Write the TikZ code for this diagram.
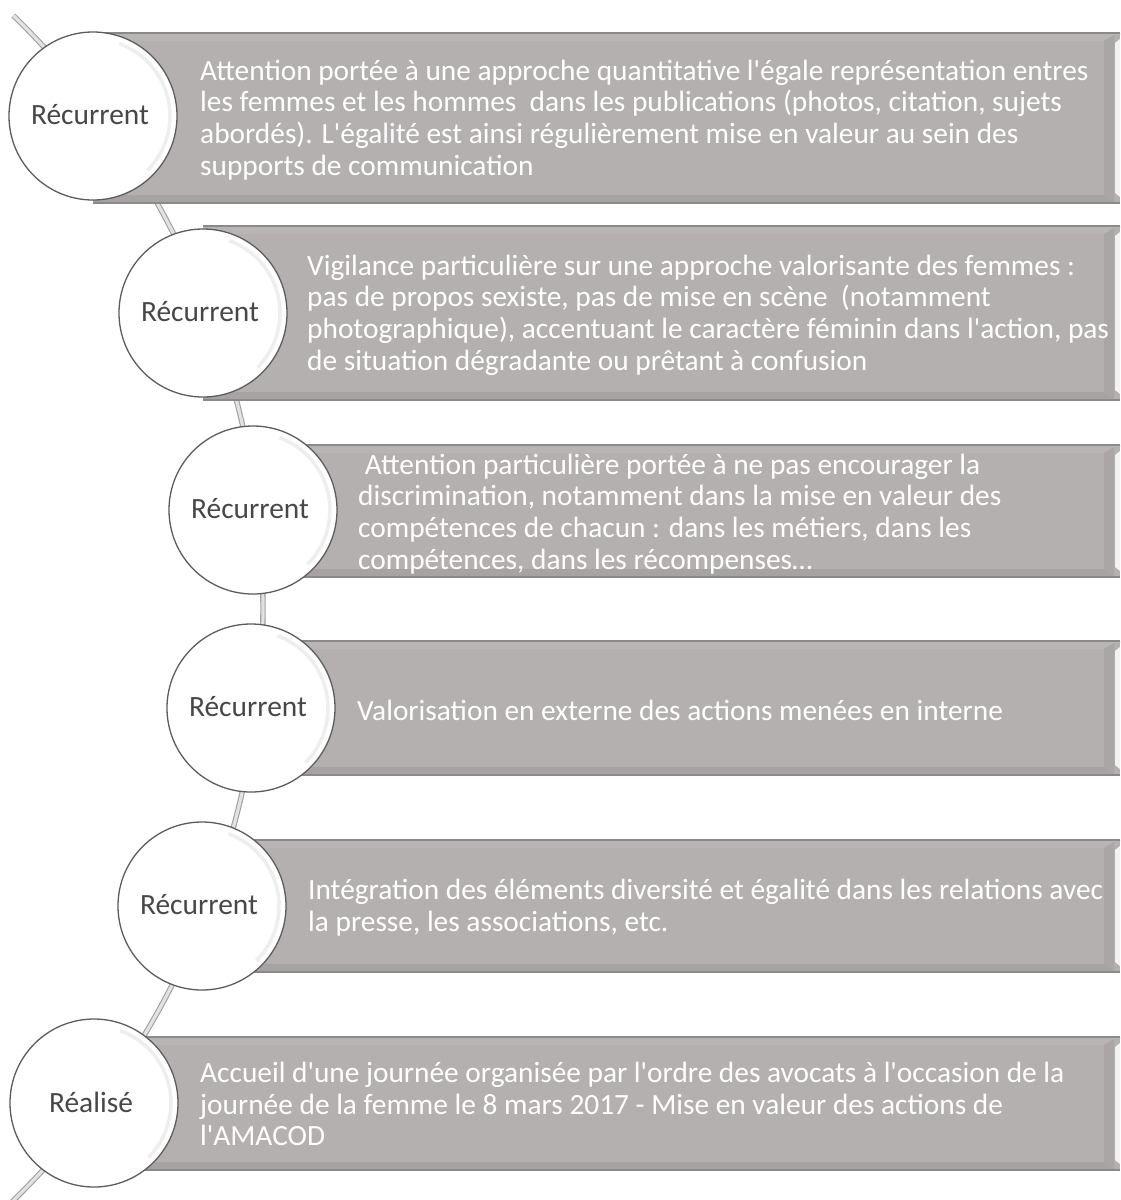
\documentclass[tikz,border=0pt]{standalone}
\usepackage{fontspec}
\setmainfont{Carlito}[Ligatures=TeXOff]
\usetikzlibrary{calc}
\definecolor{boxtop}{HTML}{B9B5B4}
\definecolor{boxface}{HTML}{B4B0AF}
\definecolor{boxdark}{HTML}{A7A3A2}
\definecolor{boxright}{HTML}{AAA6A5}
\definecolor{boxline}{HTML}{8A8A8A}
\definecolor{spinefill}{HTML}{E2E2E2}
\definecolor{spineline}{HTML}{A0A0A0}
\definecolor{circline}{HTML}{5C5C5C}
\definecolor{labelcol}{HTML}{474747}
\definecolor{glowcol}{HTML}{EEEEEE}
\newcommand\bevelbox[3]{%
  \fill[boxface] (#1,#2) rectangle (1120,#3);
  \fill[boxtop] (#1,#2) -- (1120,#2) -- (1120,{#2+2}) -- (1114,{#2+2}) -- (1104,{#2+8}) -- (#1,{#2+8}) -- cycle;
  \fill[boxdark] (#1,{#3-8}) -- (1104,{#3-8}) -- (1114,{#3-1}) -- (#1,{#3-1}) -- cycle;
  \fill[boxright] (1104,{#2+8}) -- (1114,{#2+2}) -- (1114,{#3-1}) -- (1104,{#3-8}) -- cycle;
  \fill[white!90!gray] (1115,{#2+10}) -- (1120,{#2+6}) -- (1120,{#3-6}) -- (1115,{#3-10}) -- cycle;
  \draw[boxline, line width=1.5pt] (#1,#2) -- (1120,#2);
  \draw[boxline, line width=1.5pt] (#1,#3) -- (1120,#3);
}
\tikzset{
  circ/.style={circle, draw=circline, line width=1.3pt, fill=white, minimum size=168pt, inner sep=0pt},
  lbl/.style={text=labelcol, inner sep=0pt, font=\fontsize{29.4}{31.7}\selectfont},
  txt/.style={anchor=west, align=left, inner sep=0pt, text=white, font=\fontsize{29.35}{31.7}\selectfont},
  spine/.style={draw=spineline, line width=1.1pt, double=spinefill, double distance=3.2pt},
  glow/.style={draw=glowcol, line width=3.5pt}
}
\begin{document}
\begin{tikzpicture}[x=1pt,y=-1pt]
\useasboundingbox (0,0) rectangle (1120,1200);
\fill[white] (0,0) rectangle (1120,1200);
% spine
\begin{scope}
\clip (0,0) rectangle (1120,1200);
\draw[spine] (-565,608) ++(-45.7:828) arc[start angle=-45.7, end angle=50, radius=828];
\end{scope}
% boxes
\bevelbox{93}{33}{203}
\bevelbox{203}{226}{400}
\bevelbox{253}{445}{577}
\bevelbox{251}{641}{775}
\bevelbox{202}{840}{972}
\bevelbox{94}{1037}{1170}
% texts
\node[txt] (t1) at (200,120) {Attention portée à une approche quantitative l'égale représentation entres\\les femmes et les hommes\ \ dans les publications (photos, citation, sujets\\abordés). L'égalité est ainsi régulièrement mise en valeur au sein des\\supports de communication};
\node[txt] (t2) at (307,315) {Vigilance particulière sur une approche valorisante des femmes :\\pas de propos sexiste, pas de mise en scène\ \ (notamment\\photographique), accentuant le caractère féminin dans l'action, pas\\de situation dégradante ou prêtant à confusion};
\node[txt] (t3) at (358,514) {\hspace*{0.23em}Attention particulière portée à ne pas encourager la\\discrimination, notamment dans la mise en valeur des\\compétences de chacun : dans les métiers, dans les\\compétences, dans les récompenses…};
\node[txt] (t4) at (357,710) {Valorisation en externe des actions menées en interne};
\node[txt] (t5) at (308,908) {Intégration des éléments diversité et égalité dans les relations avec\\la presse, les associations, etc.};
\node[txt] (t6) at (200,1104) {Accueil d'une journée organisée par l'ordre des avocats à l'occasion de la\\journée de la femme le 8 mars 2017 - Mise en valeur des actions de\\l'AMACOD};
% circles
\foreach \n/\cx/\cy/\lab in {1/93/116/Récurrent, 2/203/313/Récurrent, 3/253/510/Récurrent, 4/251/708/Récurrent, 5/202/906/Récurrent, 6/94/1103/Réalisé}{
  \node[circ] (c\n) at (\cx,\cy) {};
  \draw[glow] ($(c\n)+(-70:77)$) arc[start angle=-70, end angle=45, radius=77];
  \node[lbl] (l\n) at ($(c\n)+(-3,-1)$) {\lab};
}
\end{tikzpicture}
\end{document}
